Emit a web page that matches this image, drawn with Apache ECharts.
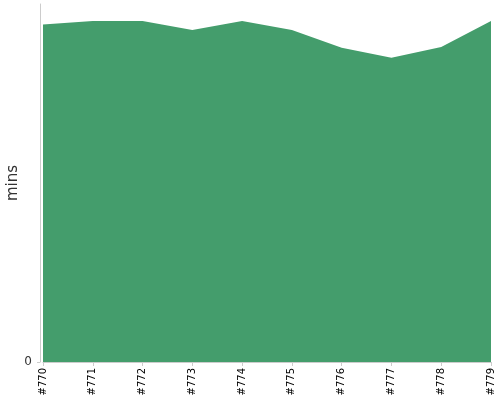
<!DOCTYPE html>
<html>
<head>
<meta charset="utf-8">
<script src="https://cdn.jsdelivr.net/npm/echarts@6/dist/echarts.min.js"></script>
<style>
  html, body { margin: 0; padding: 0; background: #fff; }
  #chart { width: 500px; height: 400px; }
</style>
</head>
<body>
<div id="chart"></div>
<script>
// build numbers along the x axis
var builds = ['#770', '#771', '#772', '#773', '#774', '#775', '#776', '#777', '#778', '#779'];
// duration in minutes
var durations = [37.7, 38.1, 38.1, 37.1, 38.1, 37.1, 35.1, 34.0, 35.2, 38.1];
var yTicks = [0];

var myChart = echarts.init(document.getElementById('chart'));
myChart.setOption({
    animation: false,
    grid: {
        left: 43,
        right: 9,
        top: 4,
        bottom: 38,
        containLabel: false,
        outerBoundsMode: 'none'
    },
    xAxis: {
        type: 'category',
        data: builds,
        boundaryGap: false,
        axisLine: { lineStyle: { color: '#ccc' } },
        axisTick: { alignWithLabel: true, length: 4, lineStyle: { color: '#ccc' } },
        axisLabel: {
            rotate: 90,
            fontSize: 10,
            color: '#000',
            fontFamily: 'DejaVu Sans',
            margin: 6,
            interval: 0
        }
    },
    yAxis: {
        type: 'value',
        min: 0,
        max: 40,
        offset: 3,
        name: 'mins',
        nameLocation: 'middle',
        nameGap: 19,
        nameMoveOverlap: false,
        nameTextStyle: { fontSize: 15, color: '#333', fontFamily: 'DejaVu Sans' },
        axisLine: { show: true, lineStyle: { color: '#ccc' } },
        axisTick: { show: true, length: 3, customValues: yTicks, lineStyle: { color: '#ccc' } },
        axisLabel: { customValues: yTicks, fontSize: 12, color: '#333', fontFamily: 'DejaVu Sans', margin: 8 },
        splitLine: { show: false }
    },
    series: [{
        type: 'line',
        data: durations,
        symbol: 'none',
        lineStyle: { width: 0 },
        itemStyle: { color: '#449d6c' },
        areaStyle: { color: '#449d6c', opacity: 1 }
    }]
});
</script>
</body>
</html>
